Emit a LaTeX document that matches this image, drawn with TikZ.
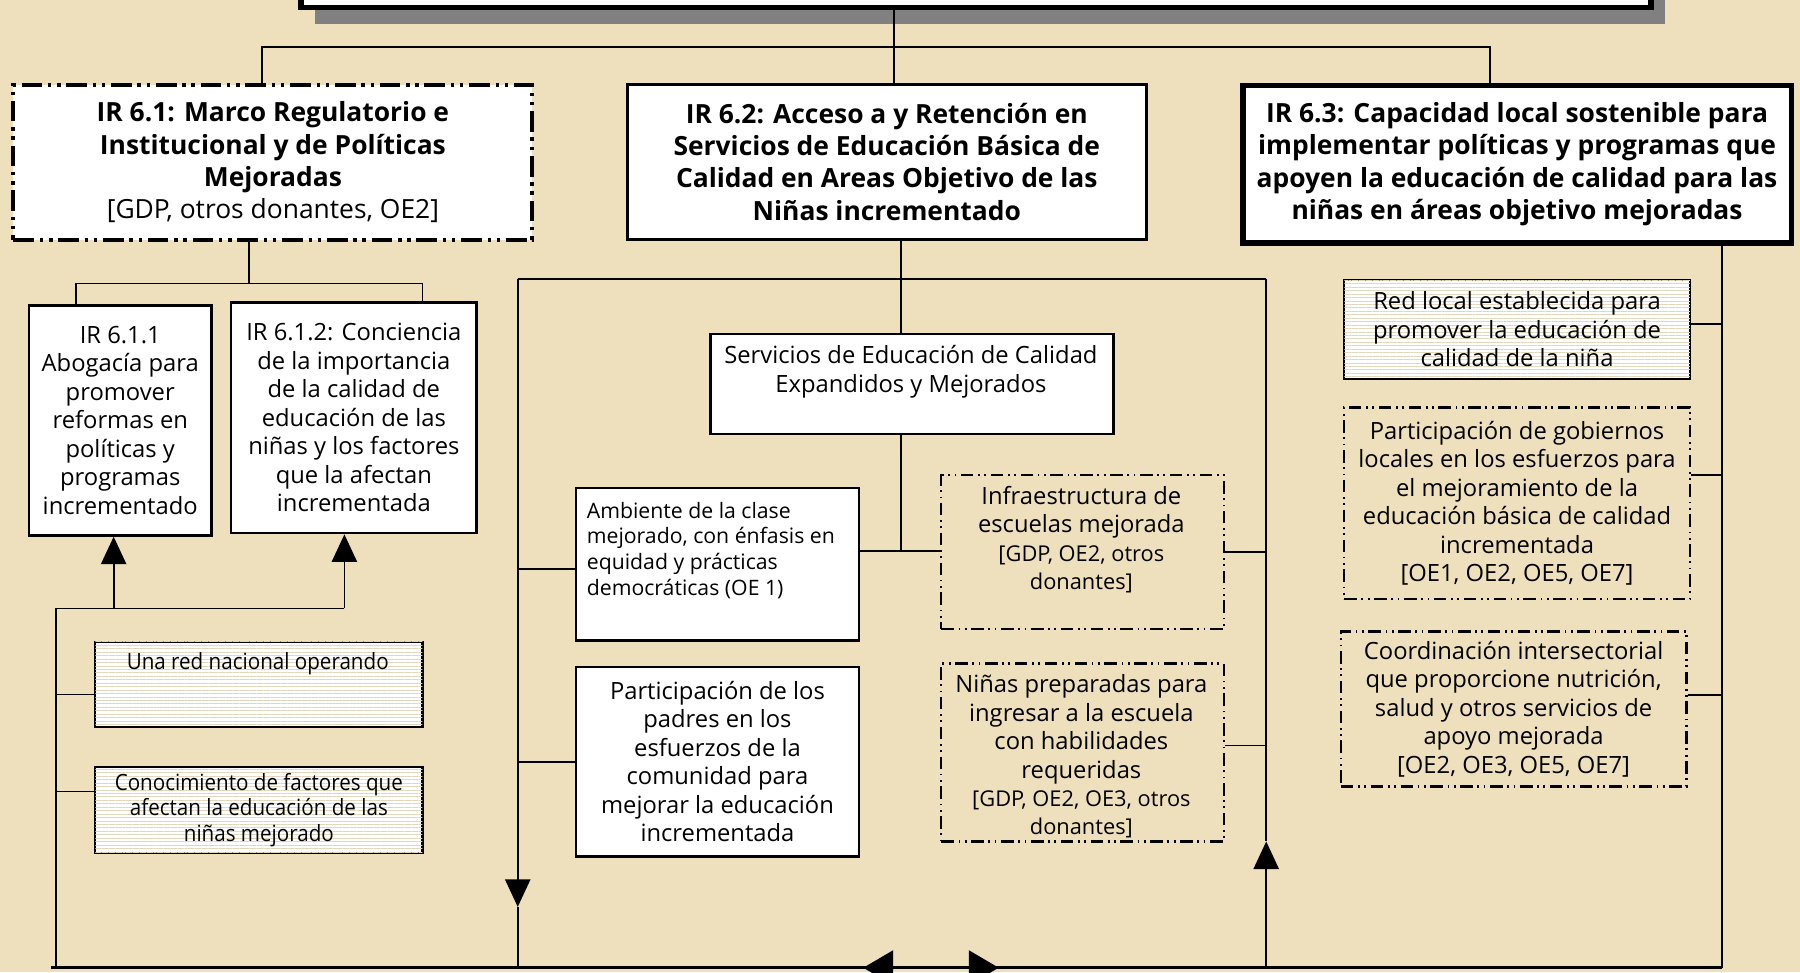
\documentclass[tikz,border=0pt]{standalone}
\usepackage{fontspec}
\setmainfont{Open Sans}
\newfontfamily\cond[FakeStretch=0.92]{Open Sans}
\usetikzlibrary{arrows.meta,shadows,patterns.meta}
\definecolor{parch}{RGB}{238,224,188}
\definecolor{stripe}{RGB}{226,214,186}
\definecolor{shadowgray}{RGB}{128,128,128}
\newcommand\Tfont{\fontsize{23}{28}\selectfont\bfseries}
\newcommand\Nfont{\fontsize{20.7}{24.8}\selectfont}
\newcommand\Sfont{\fontsize{18.5}{22.5}\selectfont}
\newcommand\Bfont{\fontsize{19}{22.5}\selectfont}
\newcommand\Cfont{\cond\fontsize{19.5}{22}\selectfont}
\begin{document}
\begin{tikzpicture}[x=1pt,y=-1pt,
  box/.style={draw, fill=white, line width=2pt, inner sep=0pt, anchor=north west, align=center},
  dashbox/.style={box, fill=none, dash pattern=on 11pt off 4pt on 1.5pt off 4pt on 1.5pt off 4pt},
  stripebox/.style={box, postaction={pattern={Lines[angle=0,distance=3pt,line width=0.4pt]}, pattern color=stripe}},
  txt/.style={inner sep=0pt, align=center},
  conn/.style={line width=1.5pt},
  upar/.style={conn, -{Triangle[length=24pt,width=22pt]}},
  dnar/.style={conn, -{Triangle[length=24pt,width=22pt]}}
]
\useasboundingbox (0,0) rectangle (1568,847);
\fill[parch] (0,0) rectangle (1568,847);

% goal box (cut by the top edge)
\node[box, line width=5pt, minimum width=1176pt, minimum height=70pt,
  drop shadow={shadow xshift=12pt, shadow yshift=-14pt, fill=shadowgray, opacity=1}] (goal) at (260,-66) {};

% level 1
\node[box, line width=3.5pt, dash pattern=on 18pt off 5pt on 3pt off 5pt on 3pt off 5pt,
  minimum width=452pt, minimum height=135pt, font=\Tfont] (ir1) at (10,72)
  {IR 6.1: Marco Regulatorio e\\Institucional y de Políticas\\Mejoradas\\\mdseries [GDP, otros donantes, OE2]};
\node[box, line width=3pt, minimum width=452pt, minimum height=135pt, font=\Tfont] (ir2) at (545,72)
  {IR 6.2: Acceso a y Retención en\\Servicios de Educación Básica de\\Calidad en Areas Objetivo de las\\Niñas incrementado};
\node[box, line width=5pt, minimum width=478pt, minimum height=137pt, font=\Tfont] (ir3) at (1080,72)
  {IR 6.3: Capacidad local sostenible para\\implementar políticas y programas que\\apoyen la educación de calidad para las\\niñas en áreas objetivo mejoradas};

% IR 6.1 column
\node[box, line width=2.5pt, minimum width=159pt, minimum height=200pt, font=\Nfont] (ir11) at (24,265)
  {IR 6.1.1\\Abogacía para\\promover\\reformas en\\políticas y\\programas\\incrementado};
\node[box, line width=2.5pt, minimum width=214pt, minimum height=201pt, font=\Nfont] (ir12) at (200,262)
  {IR 6.1.2: Conciencia\\de la importancia\\de la calidad de\\educación de las\\niñas y los factores\\que la afectan\\incrementada};
\node[stripebox, minimum width=285pt, minimum height=74pt] (una) at (82,558) {};
\node[txt, font=\Cfont] (unaT) at (224.5,578) {Una red nacional operando};
\node[stripebox, minimum width=285pt, minimum height=75pt, font=\Cfont] (conoc) at (82,667)
  {Conocimiento de factores que\\afectan la educación de las\\niñas mejorado};

% IR 6.2 column
\node[box, minimum width=351pt, minimum height=87pt] (serv) at (618,290) {};
\node[txt, font=\Nfont] (servT) at (793.5,324) {Servicios de Educación de Calidad\\Expandidos y Mejorados};
\node[box, minimum width=246pt, minimum height=133pt] (amb) at (501,424) {};
\node[txt, align=left, anchor=north west, font=\Sfont] (ambT) at (511,437)
  {Ambiente de la clase\\mejorado, con énfasis en\\equidad y prácticas\\democráticas (OE 1)};
\node[box, minimum width=246pt, minimum height=165pt, font=\Nfont] (part) at (501,580)
  {Participación de los\\padres en los\\esfuerzos de la\\comunidad para\\mejorar la educación\\incrementada};
\node[dashbox, minimum width=246pt, minimum height=134pt] (infra) at (819,413) {};
\node[txt, font=\Nfont] (infraT) at (942,470)
  {Infraestructura de\\escuelas mejorada\\\Bfont [GDP, OE2, otros\\\Bfont donantes]};
\node[dashbox, minimum width=246pt, minimum height=155pt] (nin) at (819,577) {};
\node[txt, font=\Nfont] (ninT) at (942,659)
  {Niñas preparadas para\\ingresar a la escuela\\con habilidades\\requeridas\\\Bfont [GDP, OE2, OE3, otros\\\Bfont donantes]};

% IR 6.3 column
\node[stripebox, minimum width=301pt, minimum height=86pt, font=\Nfont] (red) at (1170,243)
  {Red local establecida para\\promover la educación de\\calidad de la niña};
\node[dashbox, minimum width=301pt, minimum height=167pt, font=\Nfont] (gob) at (1170,354)
  {Participación de gobiernos\\locales en los esfuerzos para\\el mejoramiento de la\\educación básica de calidad\\incrementada\\{}[OE1, OE2, OE5, OE7]};
\node[dashbox, minimum width=301pt, minimum height=135pt, font=\Nfont] (coord) at (1167,549)
  {Coordinación intersectorial\\que proporcione nutrición,\\salud y otros servicios de\\apoyo mejorada\\{}[OE2, OE3, OE5, OE7]};

% ---- connectors ----
\coordinate (j1) at (779,41);
\coordinate (busL) at (228,41);
\coordinate (busR) at (1298,41);
\draw[conn] (goal.south -| j1) -- (ir2.north -| j1);
\draw[conn] (ir1.north -| busL) |- (busR) -- (ir3.north -| busR);

\coordinate (k) at (217,247);
\coordinate (kL) at (66,247);
\coordinate (kR) at (368,247);
\draw[conn] (ir1.south -| k) -- (k);
\draw[conn] (ir11.north -| kL) |- (kR) -- (ir12.north -| kR);

\coordinate (lc) at (49,530);
\coordinate (u1) at (99,530);
\coordinate (u2) at (300,530);
\coordinate (bl) at (44,843);
\coordinate (br) at (1500,843);
\draw[conn] (lc) -- (u2);
\draw[upar] (u1) -- (ir11.south -| u1);
\draw[upar] (u2) -- (ir12.south -| u2);
\draw[conn] (lc) -- (lc |- bl);
\draw[conn] ([yshift=-9pt]una.west) -- ([yshift=-9pt]una.west -| lc);
\draw[conn] ([yshift=16pt]conoc.west) -- ([yshift=16pt]conoc.west -| lc);

\coordinate (m0) at (785,243);
\coordinate (mL) at (451,243);
\coordinate (mR) at (1103,243);
\coordinate (m480) at (785,480);
\coordinate (lt) at (451,790);
\coordinate (lb) at (451,843);
\coordinate (rt) at (1103,733);
\coordinate (rb) at (1103,843);
\draw[conn] (ir2.south -| m0) -- (serv.north -| m0);
\draw[conn] (mL) -- (mR);
\draw[dnar] (mL) -- (lt);
\draw[conn] (lt) -- (lb);
\draw[conn] (mR) -- (rt);
\draw[upar] (rb) -- (rt);
\draw[conn] (serv.south -| m0) -- (m480);
\draw[conn] (amb.east |- m480) -- (infra.west |- m480);
\draw[conn] ([yshift=-4pt]amb.west) -- ([yshift=-4pt]amb.west -| mL);
\draw[conn] (part.west) -- (part.west -| mL);
\draw[conn] (infra.east) -- (infra.east -| mR);
\draw[conn] ([yshift=6pt]nin.east) -- ([yshift=6pt]nin.east -| mR);

\draw[conn] (ir3.south -| br) -- (br);
\draw[conn] ([yshift=5pt]red.east) -- ([yshift=5pt]red.east -| br);
\draw[conn] ([yshift=25pt]gob.east) -- ([yshift=25pt]gob.east -| br);
\draw[conn] ([yshift=12pt]coord.east) -- ([yshift=12pt]coord.east -| br);

\draw[line width=2.5pt] (bl) -- (br);
\coordinate (d0) at (752,843);
\coordinate (d1) at (870,843);
\draw[line width=2pt, {Triangle[length=26pt,width=30pt]}-{Triangle[length=26pt,width=30pt]}] (d0) -- (d1);
\end{tikzpicture}
\end{document}
